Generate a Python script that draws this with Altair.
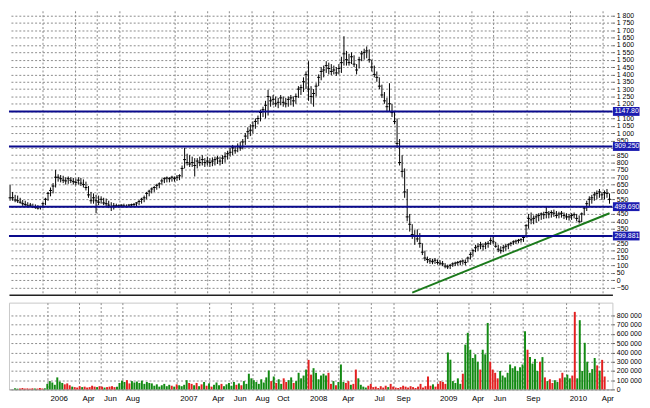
import altair as alt
import pandas as pd

# ---------------- data (weekly bars, first week starting 2005-10-03) ----------------
START = "2005-10-03"

highs = [
    650, 600, 580, 575, 560, 545, 540, 530, 525, 520,
    515, 510, 505, 530, 560, 600, 630, 660, 750, 720,
    715, 710, 700, 705, 700, 695, 690, 700, 695, 685,
    670, 640, 600, 590, 580, 575, 570, 560, 555, 540,
    530, 525, 520, 515, 515, 520, 515, 518, 520, 525,
    530, 545, 560, 575, 600, 615, 630, 640, 655, 665,
    690, 700, 705, 700, 710, 705, 715, 720, 780, 900,
    860, 850, 840, 830, 830, 840, 850, 830, 840, 830,
    835, 840, 845, 840, 850, 870, 880, 900, 920, 910,
    930, 940, 960, 1000, 1040, 1060, 1080, 1100, 1120, 1160,
    1180, 1220, 1295, 1250, 1260, 1250, 1240, 1260, 1250, 1240,
    1250, 1260, 1250, 1270, 1320, 1330, 1380, 1420, 1490, 1320,
    1300, 1340, 1400, 1450, 1460, 1490, 1480, 1470, 1460, 1450,
    1470, 1520, 1660, 1560, 1540, 1550, 1530, 1470, 1520, 1560,
    1575, 1590, 1570, 1500, 1460, 1420, 1380, 1330, 1280, 1240,
    1340, 1200, 1150, 1100, 960, 850, 760, 620, 450, 380,
    340, 345, 320, 250, 200, 160, 150, 145, 150, 140,
    135, 130, 115, 105, 110, 120, 125, 130, 135, 140,
    140, 160, 190, 210, 240, 250, 260, 250, 260, 265,
    290, 295, 260, 240, 230, 240, 245, 250, 260, 270,
    275, 280, 285, 300, 380, 450, 460, 440, 450, 455,
    460, 465, 500, 470, 475, 480, 470, 465, 470, 460,
    455, 450, 455, 460, 450, 440, 460, 500, 540, 570,
    580, 600, 610, 620, 600, 610, 620, 590,
]
lows = [
    540, 540, 530, 525, 520, 505, 500, 495, 500, 490,
    485, 480, 480, 490, 510, 540, 570, 590, 630, 670,
    665, 660, 650, 655, 660, 650, 645, 650, 640, 630,
    610, 560, 520, 520, 455, 510, 520, 510, 500, 490,
    470, 480, 495, 495, 495, 498, 495, 497, 500, 500,
    500, 510, 520, 530, 550, 570, 590, 600, 615, 625,
    650, 660, 665, 665, 670, 670, 675, 680, 700, 760,
    780, 770, 770, 705, 760, 775, 780, 770, 780, 770,
    775, 780, 790, 780, 790, 800, 820, 840, 850, 860,
    870, 880, 890, 920, 960, 980, 1000, 1030, 1060, 1080,
    1110, 1100, 1120, 1180, 1190, 1180, 1170, 1190, 1180, 1175,
    1180, 1190, 1180, 1200, 1240, 1260, 1280, 1300, 1220, 1200,
    1180, 1250, 1320, 1360, 1380, 1410, 1400, 1395, 1400, 1390,
    1400, 1410, 1460, 1460, 1460, 1470, 1450, 1400, 1440, 1490,
    1500, 1510, 1480, 1420, 1380, 1350, 1300, 1240, 1200, 1150,
    1150, 1110, 1060, 900, 780, 700, 560, 400, 330, 280,
    240, 260, 220, 170, 130, 115, 110, 108, 110, 105,
    100, 95, 80, 75, 75, 90, 95, 100, 100, 105,
    100, 120, 140, 160, 190, 200, 210, 200, 210, 220,
    240, 245, 220, 190, 180, 190, 200, 210, 230, 240,
    245, 250, 255, 260, 290, 350, 380, 380, 390, 400,
    410, 415, 420, 420, 425, 430, 420, 420, 425, 415,
    410, 405, 410, 420, 400, 385, 395, 440, 470, 500,
    520, 540, 550, 560, 545, 550, 560, 520,
]
closes = [
    560, 560, 545, 540, 530, 520, 515, 505, 510, 500,
    495, 490, 500, 520, 550, 590, 610, 640, 700, 700,
    690, 680, 675, 690, 680, 670, 665, 680, 660, 650,
    630, 580, 540, 560, 540, 530, 550, 525, 520, 510,
    500, 505, 505, 505, 510, 505, 500, 510, 512, 515,
    525, 535, 550, 560, 590, 605, 620, 630, 645, 655,
    675, 690, 695, 690, 700, 690, 700, 710, 760, 820,
    800, 790, 800, 780, 810, 800, 820, 800, 810, 800,
    810, 820, 830, 810, 830, 840, 860, 870, 900, 880,
    910, 900, 940, 980, 1010, 1020, 1050, 1080, 1100, 1140,
    1160, 1190, 1250, 1220, 1230, 1200, 1210, 1240, 1210, 1200,
    1230, 1240, 1220, 1250, 1300, 1310, 1350, 1400, 1300, 1250,
    1270, 1320, 1380, 1420, 1430, 1460, 1440, 1420, 1430, 1410,
    1440, 1480, 1540, 1500, 1480, 1520, 1470, 1430, 1500, 1540,
    1550, 1560, 1500, 1450, 1400, 1380, 1320, 1260, 1220, 1180,
    1200, 1140, 1080, 930, 800, 740, 600, 430, 380, 310,
    300, 280, 250, 190, 150, 140, 130, 125, 135, 120,
    115, 110, 95, 90, 100, 110, 115, 120, 125, 130,
    120, 150, 175, 200, 220, 230, 240, 230, 245, 250,
    270, 260, 230, 210, 200, 220, 230, 240, 250, 260,
    265, 270, 275, 290, 370, 420, 410, 420, 430, 440,
    450, 445, 460, 450, 460, 455, 440, 450, 455, 440,
    430, 430, 440, 445, 420, 400, 450, 490, 520, 550,
    560, 580, 590, 600, 580, 595, 590, 550,
]
volumes_k = [
    12, 8, 10, 15, 9, 11, 8, 12, 10, 9,
    14, 10, 12, 60, 90, 75, 50, 130, 85, 70,
    55, 65, 45, 30, 25, 20, 35, 25, 30, 20,
    25, 40, 30, 25, 35, 30, 20, 25, 30, 35,
    25, 30, 70, 95, 80, 100, 65, 90, 75, 85,
    70, 95, 60, 80, 70, 65, 40, 55, 30, 45,
    60, 35, 50, 40, 30, 55, 45, 35, 50, 100,
    70, 60, 45, 70, 35, 55, 80, 40, 65, 30,
    50, 75, 45, 60, 35, 55, 70, 40, 80, 50,
    65, 45, 90, 60, 170, 120, 100, 80, 60, 110,
    75, 130, 205, 90, 140, 70, 110, 60, 120, 80,
    100, 130, 70, 90, 180, 120, 150, 215, 320, 160,
    230, 180, 110, 150, 170, 150, 180, 60, 90, 45,
    80, 270, 80, 70, 90, 50, 60, 215, 120, 50,
    30, 20, 40, 60, 25, 30, 15, 35, 20, 40,
    25, 60, 30, 20, 15, 25, 40, 30, 20, 35,
    25, 15, 30, 60, 20, 35, 140, 40, 55, 30,
    60, 90, 80, 60, 400, 322, 90, 70, 120, 60,
    170, 485, 613, 430, 340, 380, 300, 215, 430, 380,
    720, 300, 215, 180, 120, 200, 150, 130, 180, 270,
    230, 250, 200, 240, 270, 630, 430, 350, 280, 330,
    200, 300, 350, 130, 90, 110, 70, 100, 80, 120,
    180, 130, 160, 120, 150, 840, 120, 750, 200, 505,
    300, 180, 220, 340, 260, 200, 320, 140,
]

level_values = [1147.80, 909.25, 499.69, 299.881]
level_labels = ["1147.80", "909.250", "499.690", "299.881"]

trend_dates = ["2008-10-20", "2010-04-19"]
trend_values = [-85, 455]

tick_months = [(2006, 1), (2006, 4), (2006, 6), (2006, 8),
               (2007, 1), (2007, 4), (2007, 6), (2007, 8), (2007, 10),
               (2008, 1), (2008, 4), (2008, 7), (2008, 9),
               (2009, 1), (2009, 4), (2009, 6), (2009, 9),
               (2010, 1), (2010, 4)]

price_ticks = list(range(-50, 1801, 50))
# axis labels that sit under the level boxes in the reference
covered_ticks = [1150, 900, 500, 300]
volume_ticks = list(range(0, 800001, 100000))

# ---------------- tables ----------------
n = len(closes)
assert len(highs) == n and len(lows) == n and len(volumes_k) == n
dates = pd.date_range(START, periods=n, freq="7D").strftime("%Y-%m-%d")
prev = [closes[0]] + closes[:-1]
df = pd.DataFrame({
    "date": list(dates),
    "high": highs,
    "low": lows,
    "close": closes,
    "volume": [v * 1000 for v in volumes_k],
    "dir": ["up" if c >= p else "down" for c, p in zip(closes, prev)],
})
levels = pd.DataFrame({"value": level_values, "label": level_labels})
trend = pd.DataFrame({"date": trend_dates, "value": trend_values})

# ---------------- layout / style ----------------
W = 612
PH = 288
VH = 88
FONT = "Liberation Sans, Arial, sans-serif"
FS = 7
GRID = "#8a8a8a"

xdom = [alt.DateTime(year=2005, month=9, date=30, utc=True),
        alt.DateTime(year=2010, month=4, date=27, utc=True)]
xvals = [alt.DateTime(year=y, month=m, date=1, utc=True) for y, m in tick_months]
xscale = alt.Scale(domain=xdom, nice=False)

x_axis_price = alt.Axis(values=xvals, labels=False, ticks=False, domain=True,
                        domainColor="#222222", domainWidth=1.5, grid=True,
                        gridColor=GRID, gridDash=[2, 2], title=None)
x_axis_vol = alt.Axis(values=xvals, ticks=False, domain=True, domainColor="#9a9a9a",
                      grid=True, gridColor=GRID, gridDash=[2, 2], title=None,
                      labelAlign="left", labelOffset=3, labelPadding=5,
                      labelOverlap=False, labelFontSize=8,
                      labelExpr="utcmonth(datum.value) == 0 ? utcFormat(datum.value, '%Y') : utcFormat(datum.value, '%b')")

covered_cond = " || ".join("datum.value == %d" % v for v in covered_ticks)
yscale = alt.Scale(domain=[-100, 1833], nice=False, zero=False)
y_axis_price = alt.Axis(orient="right", values=price_ticks, title=None, domain=False,
                        tickSize=2, tickColor="#555555", labelPadding=2,
                        labelOverlap=False, grid=True, gridColor=GRID, gridDash=[2, 2],
                        labelExpr="(" + covered_cond + ") ? '' : "
                                  "replace(format(datum.value, ','), ',', ' ')")

X = alt.X("date:T", scale=xscale, axis=x_axis_price)

bars = alt.Chart(df).mark_rule(color="black", strokeWidth=1).encode(
    x=X,
    y=alt.Y("low:Q", scale=yscale, axis=y_axis_price),
    y2="high:Q",
)
close_ticks = alt.Chart(df).mark_tick(orient="horizontal", size=3, thickness=1,
                                      color="black", opacity=1).encode(
    x=X,
    y=alt.Y("close:Q", scale=yscale, axis=y_axis_price),
)
level_lines = alt.Chart(levels).mark_rule(color="#0a0a8c", strokeWidth=2).encode(
    y=alt.Y("value:Q", scale=yscale, axis=y_axis_price),
)
level_boxes = alt.Chart(levels).mark_tick(orient="horizontal", size=27, thickness=9,
                                          color="#1c1cb0", opacity=1).encode(
    x=alt.value(W + 14),
    y=alt.Y("value:Q", scale=yscale, axis=y_axis_price),
)
level_text = alt.Chart(levels).mark_text(align="left", baseline="middle", color="white",
                                         font=FONT, fontSize=FS).encode(
    x=alt.value(W + 2),
    y=alt.Y("value:Q", scale=yscale, axis=y_axis_price),
    text="label:N",
)
trend_line = alt.Chart(trend).mark_line(color="#1b7a1b", strokeWidth=2).encode(
    x=X,
    y=alt.Y("value:Q", scale=yscale, axis=y_axis_price),
)

price = alt.layer(bars, close_ticks, trend_line, level_lines, level_boxes,
                  level_text).properties(width=W, height=PH)

vol = alt.Chart(df).mark_bar(size=2).encode(
    x=alt.X("date:T", scale=xscale, axis=x_axis_vol),
    y=alt.Y("volume:Q", scale=alt.Scale(domain=[0, 940000], nice=False),
            axis=alt.Axis(orient="right", values=volume_ticks, title=None, domain=False,
                          tickSize=2, tickColor="#555555", labelPadding=2,
                          labelOverlap=False, grid=True, gridColor=GRID, gridDash=[2, 2],
                          labelExpr="replace(format(datum.value, ','), ',', ' ')")),
    color=alt.Color("dir:N", scale=alt.Scale(domain=["up", "down"],
                                             range=["#138a13", "#e32020"]), legend=None),
).properties(width=W, height=VH, view=alt.ViewBackground(stroke="#c8c8c8"))

chart = alt.vconcat(price, vol, spacing=5).properties(
    padding={"left": 0, "top": 0, "right": 0, "bottom": 0},
    background="white",
).configure_view(stroke=None).configure_axis(
    labelFont=FONT, labelFontSize=FS, labelColor="#000000",
)

chart.save("out.html", embed_options={"renderer": "svg", "actions": False})
